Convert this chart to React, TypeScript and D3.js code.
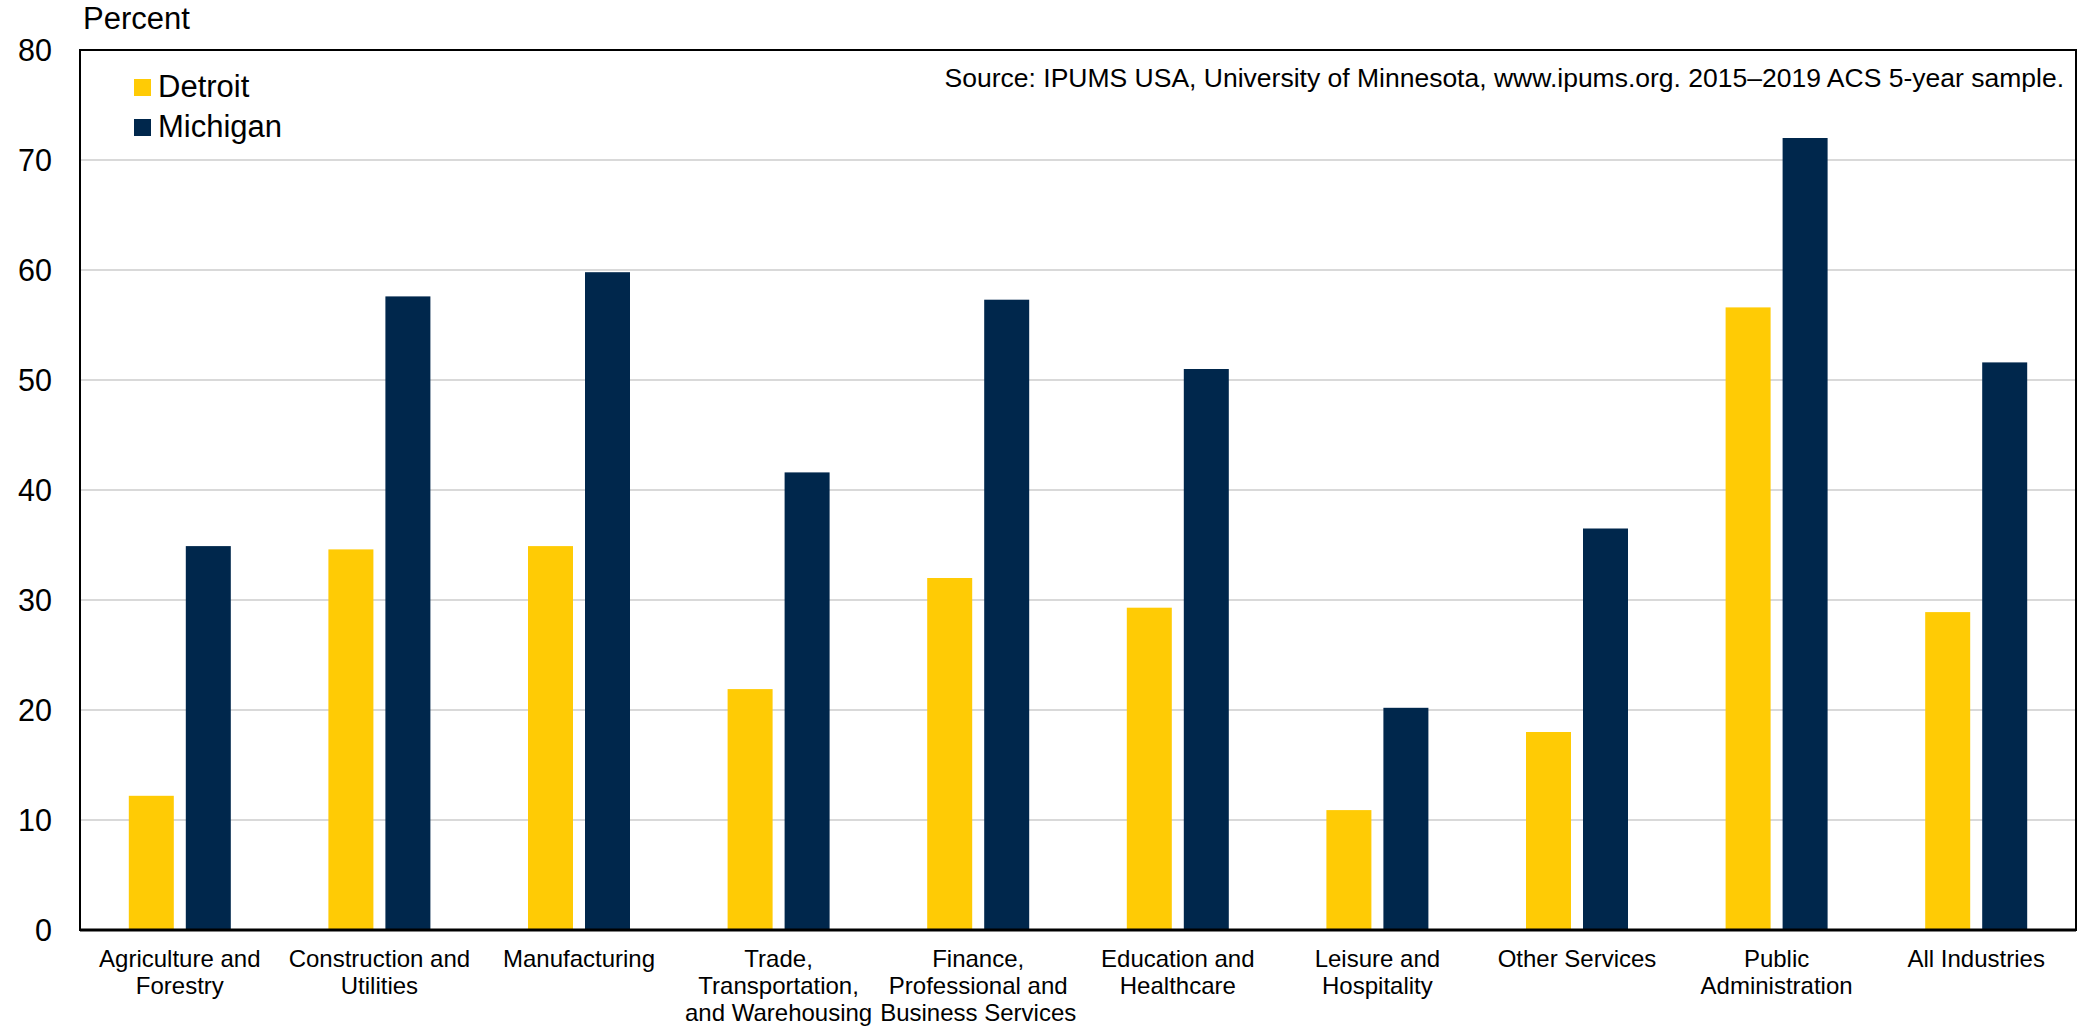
import React from "react";
import * as d3 from "d3";

const categories = [
  ["Agriculture and", "Forestry"],
  ["Construction and", "Utilities"],
  ["Manufacturing"],
  ["Trade,", "Transportation,", "and Warehousing"],
  ["Finance,", "Professional and", "Business Services"],
  ["Education and", "Healthcare"],
  ["Leisure and", "Hospitality"],
  ["Other Services"],
  ["Public", "Administration"],
  ["All Industries"],
];
const seriesNames = ["Detroit", "Michigan"];
const detroit = [12.2, 34.6, 34.9, 21.9, 32.0, 29.3, 10.9, 18.0, 56.6, 28.9];
const michigan = [34.9, 57.6, 59.8, 41.6, 57.3, 51.0, 20.2, 36.5, 72.0, 51.6];
const yTicks = [0, 10, 20, 30, 40, 50, 60, 70, 80];
const colors = ["#FFCB05", "#00274C"];
const sourceText =
  "Source: IPUMS USA, University of Minnesota, www.ipums.org. 2015\u20132019 ACS 5-year sample.";

const W = 2079;
const H = 1027;
const plot = { left: 80, right: 2076, top: 50, bottom: 930 };
const font = "'Liberation Sans', Arial, sans-serif";

export default function App() {
  const keys = categories.map((c) => c.join(" "));
  const x = d3.scaleBand().domain(keys).range([plot.left, plot.right]);
  const y = d3.scaleLinear().domain([0, 80]).range([plot.bottom, plot.top]);
  const values = [detroit, michigan];

  return (
    <svg
      width={W}
      height={H}
      style={{ position: "absolute", left: 0, top: 0, background: "#fff" }}
      fontFamily={font}
    >
      {/* grid */}
      {yTicks.slice(1, -1).map((t) => (
        <line
          key={t}
          x1={plot.left}
          x2={plot.right}
          y1={y(t)}
          y2={y(t)}
          stroke="#d9d9d9"
          strokeWidth={2}
        />
      ))}

      {/* bars */}
      {keys.map((k, i) => {
        const c = x(k)! + x.bandwidth() / 2;
        const sub = d3
          .scaleBand()
          .domain(seriesNames)
          .range([c - 51, c + 51])
          .paddingInner(12 / 57);
        return seriesNames.map((s, j) => (
          <rect
            key={k + s}
            x={sub(s)}
            width={sub.bandwidth()}
            y={y(values[j][i])}
            height={y(0) - y(values[j][i])}
            fill={colors[j]}
          />
        ));
      })}

      {/* frame */}
      <rect
        x={plot.left}
        y={plot.top}
        width={plot.right - plot.left}
        height={plot.bottom - plot.top}
        fill="none"
        stroke="#000"
        strokeWidth={2}
      />
      <line
        x1={plot.left}
        x2={plot.right}
        y1={plot.bottom}
        y2={plot.bottom}
        stroke="#000"
        strokeWidth={3}
      />

      {/* y tick labels */}
      {yTicks.map((t) => (
        <text
          key={t}
          x={52}
          y={y(t)}
          dy="0.36em"
          textAnchor="end"
          fontSize={30.5}
          fill="#000"
        >
          {t}
        </text>
      ))}
      <text x={83} y={29} fontSize={31} fill="#000">
        Percent
      </text>

      {/* x labels */}
      {categories.map((lines, i) => (
        <text
          key={i}
          x={x(keys[i])! + x.bandwidth() / 2}
          y={966.5}
          textAnchor="middle"
          fontSize={24}
          fill="#000"
        >
          {lines.map((l, j) => (
            <tspan key={j} x={x(keys[i])! + x.bandwidth() / 2} dy={j === 0 ? 0 : 27}>
              {l}
            </tspan>
          ))}
        </text>
      ))}

      {/* legend */}
      {seriesNames.map((s, j) => (
        <g key={s} transform={`translate(134, ${79 + j * 40})`}>
          <rect width={17} height={17} fill={colors[j]} />
          <text x={24} y={18} fontSize={31} fill="#000">
            {s}
          </text>
        </g>
      ))}

      {/* source */}
      <text x={2064} y={87} textAnchor="end" fontSize={26.5} fill="#000">
        {sourceText}
      </text>
    </svg>
  );
}
